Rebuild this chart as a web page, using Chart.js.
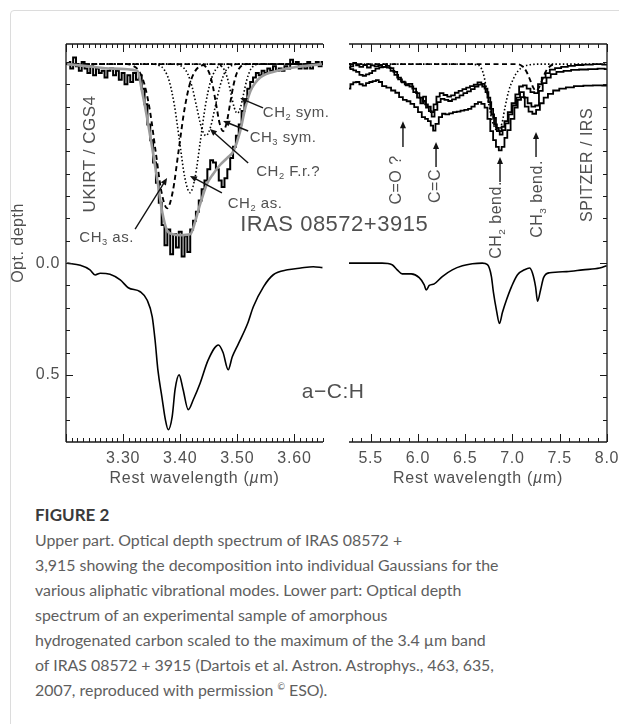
<!DOCTYPE html>
<html lang="en">
<head>
<meta charset="UTF-8">
<title>Figure 2</title>
<script src="https://cdn.jsdelivr.net/npm/chart.js@4.4.1/dist/chart.umd.min.js"></script>
<style>
    body {
        margin: 0;
        width: 619px;
        height: 724px;
        overflow: hidden;
        position: relative;
        background: #fff;
        font-family: Lato, "Open Sans", sans-serif;
    }
    .card {
        position: absolute;
        left: 10px;
        top: 10px;
        width: 700px;
        height: 800px;
        border: 1px solid #dcdcdc;
        border-radius: 4px;
    }
    .plot {
        position: absolute;
        left: 0;
        top: 0;
    }
    .caption {
        position: absolute;
        left: 35px;
        top: 506px;
        color: #5e5e5e;
        font-size: 15.9px;
        line-height: 25px;
        white-space: nowrap;
    }
    .caption h4 {
        margin: 0 0 3px 0;
        color: #3a3a3a;
        font-size: 17px;
        font-weight: 700;
        line-height: 18px;
    }
    .caption sup { font-size: 9px; line-height: 0; vertical-align: 6px; }
</style>
</head>
<body>
<div class="card"></div>
<canvas id="leftPanel" class="plot" width="619" height="500"></canvas>
<canvas id="rightPanel" class="plot" width="619" height="500"></canvas>
<div class="caption">
    <h4>FIGURE 2</h4>
    Upper part. Optical depth spectrum of IRAS 08572 +<br>
    3,915 showing the decomposition into individual Gaussians for the<br>
    various aliphatic vibrational modes. Lower part: Optical depth<br>
    spectrum of an experimental sample of amorphous<br>
    hydrogenated carbon scaled to the maximum of the 3.4 µm band<br>
    of IRAS 08572 + 3915 (Dartois et al. Astron. Astrophys., 463, 635,<br>
    2007, reproduced with permission <sup>©</sup> ESO).
</div>
<script>
// upper spectra are optical depth measured down from their own baseline
const UPPER_BASE = -0.89;

// 3.4 um band, UKIRT / CGS4  [wavelength um, optical depth]
const ukirtSpectrum = [
    [3.205,-0.01],[3.210,0.02],[3.215,-0.03],[3.220,0.01],[3.225,0.03],[3.230,-0.01],
    [3.235,0.02],[3.240,0.04],[3.245,0.01],[3.250,0.05],[3.255,0.02],[3.260,0.04],
    [3.265,0.03],[3.270,0.06],[3.275,0.03],[3.280,0.02],[3.285,0.05],[3.290,0.03],
    [3.295,0.07],[3.300,0.04],[3.305,0.09],[3.310,0.05],[3.315,0.08],[3.320,0.04],
    [3.325,0.07],[3.330,0.05],[3.335,0.11],[3.340,0.18],[3.345,0.27],[3.350,0.34],
    [3.355,0.44],[3.360,0.53],[3.365,0.62],[3.370,0.72],[3.375,0.81],[3.380,0.74],
    [3.385,0.85],[3.390,0.76],[3.395,0.82],[3.400,0.75],[3.405,0.86],[3.410,0.77],
    [3.415,0.84],[3.420,0.74],[3.425,0.70],[3.430,0.66],[3.435,0.61],[3.440,0.56],
    [3.445,0.52],[3.450,0.47],[3.455,0.43],[3.460,0.44],[3.465,0.47],[3.470,0.52],
    [3.475,0.55],[3.480,0.51],[3.485,0.47],[3.490,0.42],[3.495,0.37],[3.500,0.32],
    [3.505,0.27],[3.510,0.21],[3.515,0.16],[3.520,0.11],[3.525,0.08],[3.530,0.06],
    [3.535,0.04],[3.540,0.05],[3.545,0.03],[3.550,0.04],[3.555,0.02],[3.560,0.03],
    [3.565,0.01],[3.570,0.03],[3.575,0.02],[3.580,0.03],[3.585,0.01],[3.590,0.02],
    [3.595,-0.02],[3.600,0.00],[3.605,-0.01],[3.610,0.02],[3.615,0.01],[3.620,0.02],
    [3.625,-0.01],[3.630,0.02],[3.635,0.00],[3.640,-0.01],[3.645,0.01],[3.650,-0.01]
];
const ukirtFit = [
    [3.202,0.00],[3.240,0.01],[3.280,0.02],[3.325,0.03],[3.333,0.12],[3.342,0.24],
    [3.351,0.375],[3.360,0.52],[3.368,0.655],[3.377,0.745],[3.386,0.76],[3.400,0.765],
    [3.418,0.76],[3.423,0.73],[3.435,0.625],[3.447,0.535],[3.458,0.49],[3.470,0.45],
    [3.482,0.42],[3.493,0.39],[3.505,0.30],[3.514,0.195],[3.523,0.12],[3.540,0.06],
    [3.570,0.03],[3.598,0.015],[3.648,0.00]
];
const gaussCH3as = [
    [3.200,0],[3.307,0],[3.317,0.007],[3.327,0.028],[3.337,0.087],[3.347,0.209],[3.357,0.391],
    [3.367,0.569],[3.377,0.645],[3.387,0.569],[3.397,0.391],[3.407,0.209],[3.417,0.087],
    [3.427,0.028],[3.437,0.007],[3.447,0],[3.650,0]
];
const gaussCH2as = [
    [3.200,0],[3.354,0],[3.363,0.006],[3.372,0.025],[3.381,0.078],[3.390,0.187],[3.399,0.349],
    [3.408,0.507],[3.417,0.575],[3.426,0.507],[3.435,0.349],[3.444,0.187],[3.453,0.078],
    [3.462,0.025],[3.471,0.006],[3.480,0],[3.650,0]
];
const gaussCH2fr = [
    [3.200,0],[3.389,0],[3.397,0.004],[3.405,0.014],[3.413,0.043],[3.421,0.104],[3.429,0.194],
    [3.437,0.282],[3.445,0.32],[3.453,0.282],[3.461,0.194],[3.469,0.104],[3.477,0.043],
    [3.485,0.014],[3.493,0.004],[3.501,0],[3.650,0]
];
const gaussCH3sym = [
    [3.200,0],[3.433,0],[3.439,0.003],[3.445,0.013],[3.451,0.041],[3.457,0.097],[3.463,0.182],
    [3.469,0.265],[3.475,0.30],[3.481,0.265],[3.487,0.182],[3.493,0.097],[3.499,0.041],
    [3.505,0.013],[3.511,0.003],[3.517,0],[3.650,0]
];
const gaussCH2sym = [
    [3.200,0],[3.461,0],[3.467,0.002],[3.4725,0.010],[3.478,0.030],[3.4835,0.071],[3.489,0.133],
    [3.4945,0.194],[3.500,0.22],[3.5055,0.194],[3.511,0.133],[3.5165,0.071],[3.522,0.030],
    [3.5275,0.010],[3.533,0.002],[3.539,0],[3.650,0]
];
// laboratory a-C:H, 3.4 um region
const acH34 = [
    [3.202,0.000],[3.225,0.010],[3.242,0.030],[3.251,0.053],[3.260,0.045],[3.277,0.050],
    [3.295,0.075],[3.309,0.110],[3.330,0.128],[3.342,0.165],[3.351,0.240],[3.356,0.345],
    [3.361,0.480],[3.368,0.600],[3.374,0.700],[3.379,0.745],[3.386,0.685],[3.391,0.565],
    [3.398,0.500],[3.405,0.565],[3.414,0.655],[3.423,0.610],[3.435,0.536],[3.449,0.433],
    [3.467,0.366],[3.475,0.400],[3.484,0.477],[3.491,0.420],[3.502,0.360],[3.518,0.270],
    [3.528,0.195],[3.546,0.105],[3.563,0.052],[3.588,0.030],[3.611,0.022],[3.633,0.016],
    [3.649,0.020]
];

// 5.3 - 8 um, SPITZER / IRS (three extractions)
const irsTop = [
    [5.27,0.000],[5.30,0.010],[5.33,-0.005],[5.36,0.005],[5.40,0.012],[5.44,0.004],[5.48,0.015],
    [5.52,0.006],[5.56,0.010],[5.60,0.004],[5.64,0.012],[5.68,0.008],[5.72,0.018],[5.76,0.035],
    [5.80,0.060],[5.84,0.078],[5.88,0.090],[5.92,0.088],[5.96,0.110],[6.00,0.130],[6.03,0.150],
    [6.06,0.165],[6.09,0.180],[6.12,0.190],[6.15,0.215],[6.18,0.180],[6.21,0.145],[6.25,0.130],
    [6.29,0.138],[6.33,0.145],[6.37,0.140],[6.41,0.128],[6.45,0.120],[6.49,0.112],[6.53,0.105],
    [6.57,0.098],[6.61,0.092],[6.65,0.082],[6.69,0.088],[6.72,0.110],[6.75,0.150],[6.78,0.200],
    [6.81,0.240],[6.84,0.285],[6.87,0.300],[6.90,0.280],[6.93,0.255],[6.97,0.215],[7.01,0.175],
    [7.05,0.135],[7.09,0.100],[7.13,0.095],[7.17,0.110],[7.21,0.125],[7.25,0.130],[7.29,0.090],
    [7.33,0.060],[7.37,0.040],[7.42,0.025],[7.48,0.018],[7.55,0.012],[7.62,0.008],[7.70,0.004],
    [7.80,0.002],[7.90,0.000],[8.00,0.002]
];
const irsMid = [
    [5.27,0.015],[5.30,0.022],[5.33,0.028],[5.36,0.035],[5.40,0.048],[5.43,0.052],[5.47,0.046],
    [5.50,0.040],[5.53,0.030],[5.57,0.020],[5.61,0.014],[5.65,0.012],[5.69,0.016],[5.73,0.030],
    [5.77,0.048],[5.81,0.068],[5.85,0.082],[5.89,0.095],[5.93,0.100],[5.97,0.125],[6.01,0.150],
    [6.04,0.175],[6.07,0.145],[6.10,0.195],[6.13,0.210],[6.16,0.235],[6.19,0.205],[6.22,0.170],
    [6.26,0.155],[6.30,0.160],[6.34,0.165],[6.38,0.158],[6.42,0.150],[6.46,0.140],[6.50,0.130],
    [6.54,0.122],[6.58,0.112],[6.62,0.100],[6.66,0.092],[6.70,0.100],[6.73,0.125],[6.76,0.170],
    [6.79,0.225],[6.82,0.270],[6.85,0.300],[6.88,0.315],[6.91,0.295],[6.94,0.265],[6.98,0.225],
    [7.02,0.185],[7.06,0.150],[7.10,0.125],[7.14,0.150],[7.18,0.175],[7.22,0.190],[7.26,0.185],
    [7.30,0.120],[7.34,0.085],[7.38,0.060],[7.43,0.045],[7.50,0.035],[7.58,0.030],[7.66,0.026],
    [7.75,0.024],[7.85,0.022],[7.95,0.020],[8.00,0.022]
];
const irsLow = [
    [5.27,0.110],[5.30,0.090],[5.33,0.082],[5.36,0.080],[5.40,0.090],[5.43,0.096],[5.47,0.085],
    [5.50,0.080],[5.54,0.076],[5.57,0.072],[5.60,0.080],[5.64,0.098],[5.69,0.105],[5.74,0.118],
    [5.78,0.128],[5.82,0.148],[5.86,0.160],[5.90,0.166],[5.94,0.178],[5.98,0.192],[6.02,0.215],
    [6.06,0.237],[6.09,0.245],[6.12,0.255],[6.15,0.275],[6.17,0.297],[6.20,0.267],[6.24,0.237],
    [6.27,0.222],[6.31,0.225],[6.35,0.220],[6.39,0.215],[6.43,0.212],[6.47,0.208],[6.51,0.205],
    [6.55,0.200],[6.58,0.190],[6.62,0.178],[6.65,0.170],[6.69,0.178],[6.72,0.195],[6.75,0.245],
    [6.78,0.300],[6.81,0.340],[6.84,0.370],[6.87,0.386],[6.90,0.370],[6.93,0.330],[6.96,0.295],
    [7.00,0.245],[7.04,0.195],[7.07,0.160],[7.11,0.148],[7.15,0.190],[7.19,0.212],[7.23,0.222],
    [7.27,0.205],[7.31,0.175],[7.35,0.150],[7.40,0.133],[7.46,0.118],[7.53,0.110],[7.60,0.104],
    [7.70,0.098],[7.80,0.096],[7.90,0.095],[8.00,0.096]
];
const gaussCH2bend = [
    [5.27,0],[6.55,0],[6.62,0.003],[6.66,0.012],[6.69,0.040],[6.72,0.100],[6.75,0.180],
    [6.79,0.260],[6.85,0.300],[6.89,0.262],[6.92,0.195],[6.96,0.120],[7.01,0.065],
    [7.06,0.030],[7.12,0.010],[7.20,0.002],[7.30,0],[8.00,0]
];
const gaussCH3bend = [
    [5.27,0],[7.05,0],[7.10,0.008],[7.15,0.035],[7.19,0.075],[7.22,0.105],[7.25,0.120],
    [7.28,0.105],[7.31,0.075],[7.35,0.035],[7.40,0.008],[7.45,0]
];
const acH68 = [
    [5.27,0.000],[5.62,0.000],[5.726,0.007],[5.78,0.030],[5.832,0.048],[5.928,0.048],
    [6.013,0.065],[6.066,0.097],[6.087,0.120],[6.12,0.100],[6.172,0.093],[6.257,0.060],
    [6.363,0.030],[6.47,0.012],[6.575,0.003],[6.68,0.000],[6.735,0.007],[6.777,0.060],
    [6.798,0.130],[6.83,0.210],[6.862,0.270],[6.894,0.220],[6.936,0.165],[6.99,0.105],
    [7.053,0.052],[7.127,0.030],[7.18,0.022],[7.212,0.045],[7.244,0.105],[7.265,0.170],
    [7.297,0.120],[7.329,0.065],[7.393,0.043],[7.573,0.038],[7.743,0.030],[7.923,0.022],
    [7.997,0.012]
];

const leftTickLabels = ['3.30', '3.40', '3.50', '3.60'];
const rightTickLabels = ['5.5', '6.0', '6.5', '7.0', '7.5', '8.0'];
const depthTickLabels = ['0.0', '0.5'];

const FONT = '"Liberation Sans", Arial, sans-serif';
const INK = '#505050';

const upper = pts => pts.map(([x, t]) => ({ x, y: UPPER_BASE + t }));
const lower = pts => pts.map(([x, t]) => ({ x, y: t }));

function line(data, extra) {
    return Object.assign({
        data, borderColor: '#000', borderWidth: 1.6, pointRadius: 0, fill: false
    }, extra);
}
const DOTTED = { borderWidth: 1.6, borderDash: [1.5, 2.2], cubicInterpolationMode: 'monotone' };
const DASHED = { borderWidth: 1.9, borderDash: [5, 3.5], cubicInterpolationMode: 'monotone' };

// draw text made of [text, 'sub'|'it'] pieces
function drawRich(ctx, segs, size, align, spacing) {
    ctx.letterSpacing = (spacing || 0) + 'px';
    const parts = segs.map(s => {
        const sub = s[1] === 'sub';
        const fs = sub ? size * 0.62 : size;
        return { t: s[0], font: (s[1] === 'it' ? 'italic ' : '') + fs + 'px ' + FONT, dy: sub ? size * 0.3 : 0 };
    });
    let w = 0;
    parts.forEach(p => { ctx.font = p.font; p.w = ctx.measureText(p.t).width; w += p.w; });
    let x0 = align === 'left' ? 0 : -w / 2;
    parts.forEach(p => { ctx.font = p.font; ctx.fillText(p.t, x0, p.dy); x0 += p.w; });
    ctx.letterSpacing = '0px';
}

function drawArrow(ctx, x1, y1, x2, y2) {
    const a = Math.atan2(y2 - y1, x2 - x1), L = 7, W = 3;
    ctx.beginPath();
    ctx.moveTo(x1, y1);
    ctx.lineTo(x2 - Math.cos(a) * L * 0.7, y2 - Math.sin(a) * L * 0.7);
    ctx.stroke();
    ctx.beginPath();
    ctx.moveTo(x2, y2);
    ctx.lineTo(x2 - L * Math.cos(a) + W * Math.sin(a), y2 - L * Math.sin(a) - W * Math.cos(a));
    ctx.lineTo(x2 - L * Math.cos(a) - W * Math.sin(a), y2 - L * Math.sin(a) + W * Math.cos(a));
    ctx.closePath();
    ctx.fill();
}

// IDL-like frame with inward ticks, plus text labels and arrows
const idlPlugin = {
    id: 'idl',
    afterDatasetsDraw(chart, args, o) {
        const { ctx, chartArea: a, scales: { x, y } } = chart;
        ctx.save();
        ctx.strokeStyle = '#1a1a1a';
        ctx.lineWidth = 1.3;
        ctx.beginPath();
        ctx.moveTo(a.left, a.top); ctx.lineTo(a.right, a.top);
        ctx.moveTo(a.left, a.bottom); ctx.lineTo(a.right, a.bottom);
        const side = o.side === 'left' ? a.left : a.right;
        ctx.moveTo(side, a.top); ctx.lineTo(side, a.bottom);
        ctx.stroke();

        ctx.lineWidth = 1;
        ctx.beginPath();
        const n = Math.round((o.xTo - o.xFrom) / o.xMinor);
        for (let i = 0; i <= n; i++) {
            const v = o.xFrom + i * o.xMinor;
            const major = Math.abs(v / o.xMajor - Math.round(v / o.xMajor)) < 1e-6;
            const px = Math.round(x.getPixelForValue(v)) + 0.5;
            const len = major ? 8 : 4;
            ctx.moveTo(px, a.top); ctx.lineTo(px, a.top + len);
            ctx.moveTo(px, a.bottom); ctx.lineTo(px, a.bottom - len);
        }
        const dir = o.side === 'left' ? 1 : -1;
        for (let i = -9; i <= 7; i++) {
            const v = i / 10;
            const py = Math.round(y.getPixelForValue(v)) + 0.5;
            const len = (i === 0 || i === 5) ? 7 : 4;
            ctx.moveTo(side, py); ctx.lineTo(side + dir * len, py);
        }
        ctx.stroke();

        ctx.fillStyle = INK;
        ctx.textBaseline = 'middle';
        ctx.textAlign = 'left';
        o.xLabels.forEach(t => {
            ctx.save();
            ctx.translate(x.getPixelForValue(parseFloat(t)), a.bottom + 17);
            drawRich(ctx, [[t]], 16, 'center', 0.8);
            ctx.restore();
        });
        ctx.save();
        ctx.translate((a.left + a.right) / 2, a.bottom + 37);
        drawRich(ctx, [['Rest wavelength ('], ['\u00b5', 'it'], ['m)']], 16, 'center', 0.7);
        ctx.restore();
        if (o.side === 'left') {
            depthTickLabels.forEach(t => {
                ctx.save();
                ctx.translate(a.left - 18, y.getPixelForValue(parseFloat(t)));
                drawRich(ctx, [[t]], 16, 'center', 0.8);
                ctx.restore();
            });
            ctx.save();
            ctx.translate(a.left - 47, 243);
            ctx.rotate(-Math.PI / 2);
            drawRich(ctx, [['Opt. depth']], 16, 'center', 0.5);
            ctx.restore();
        }

        o.notes.forEach(nt => {
            ctx.save();
            ctx.translate(x.getPixelForValue(nt.at[0]), y.getPixelForValue(nt.at[1]));
            if (nt.rotate) ctx.rotate(-Math.PI / 2);
            drawRich(ctx, nt.text, nt.size, nt.align || 'center', 0.5);
            ctx.restore();
        });
        ctx.strokeStyle = '#111';
        ctx.fillStyle = '#111';
        ctx.lineWidth = 1.4;
        o.arrows.forEach(ar => {
            drawArrow(ctx,
                x.getPixelForValue(ar[0][0]), y.getPixelForValue(ar[0][1]),
                x.getPixelForValue(ar[1][0]), y.getPixelForValue(ar[1][1]));
        });
        ctx.restore();
    }
};

function panelOptions(xmin, xmax, padding, idl) {
    return {
        responsive: false,
        animation: false,
        events: [],
        layout: { padding },
        plugins: { legend: { display: false }, tooltip: { enabled: false }, idl },
        scales: {
            x: { type: 'linear', min: xmin, max: xmax, display: false },
            y: { type: 'linear', min: -0.98, max: 0.8, reverse: true, display: false }
        }
    };
}

new Chart(document.getElementById('leftPanel'), {
    type: 'line',
    data: {
        datasets: [
            line(upper(ukirtFit), { borderColor: '#9b9b9b', borderWidth: 2.6, cubicInterpolationMode: 'monotone' }),
            line(upper(ukirtSpectrum), { borderWidth: 2, stepped: 'middle' }),
            line(upper(gaussCH3as), DASHED),
            line(upper(gaussCH2as), DOTTED),
            line(upper(gaussCH2fr), DOTTED),
            line(upper(gaussCH3sym), DASHED),
            line(upper(gaussCH2sym), DOTTED),
            line(lower(acH34), { borderWidth: 1.6, cubicInterpolationMode: 'monotone' })
        ]
    },
    options: panelOptions(3.20, 3.65, { left: 66, right: 296, top: 44, bottom: 58 }, {
        side: 'left', xFrom: 3.20, xTo: 3.65, xMinor: 0.01, xMajor: 0.1, xLabels: leftTickLabels,
        notes: [
            { text: [['UKIRT / CGS4']], at: [3.242, -0.488], size: 17, rotate: true },
            { text: [['CH'], ['3', 'sub'], [' as.']], at: [3.271, -0.112], size: 15 },
            { text: [['CH'], ['2', 'sub'], [' as.']], at: [3.531, -0.264], size: 15 },
            { text: [['CH'], ['2', 'sub'], [' F.r.?']], at: [3.589, -0.407], size: 15 },
            { text: [['CH'], ['3', 'sub'], [' sym.']], at: [3.580, -0.560], size: 15 },
            { text: [['CH'], ['2', 'sub'], [' sym.']], at: [3.603, -0.671], size: 15 },
            { text: [['IRAS 08572+3915']], at: [3.505, -0.170], size: 22, align: 'left' },
            { text: [['a\u2212C:H']], at: [3.613, 0.576], size: 21, align: 'left' }
        ],
        arrows: [
            [[3.321, -0.152], [3.377, -0.381]],
            [[3.473, -0.314], [3.417, -0.390]],
            [[3.519, -0.448], [3.452, -0.600]],
            [[3.519, -0.591], [3.475, -0.636]],
            [[3.545, -0.694], [3.505, -0.738]]
        ]
    }),
    plugins: [idlPlugin]
});

new Chart(document.getElementById('rightPanel'), {
    type: 'line',
    data: {
        datasets: [
            line(upper(irsTop), { stepped: 'middle', borderWidth: 1.8 }),
            line(upper(irsMid), { stepped: 'middle', borderWidth: 1.8 }),
            line(upper(irsLow), { stepped: 'middle', borderWidth: 1.8 }),
            line(upper(gaussCH2bend), DOTTED),
            line(upper(gaussCH3bend), DASHED),
            line(lower(acH68), { borderWidth: 1.6, cubicInterpolationMode: 'monotone' })
        ]
    },
    options: panelOptions(5.27, 8.0, { left: 349, right: 12, top: 44, bottom: 58 }, {
        side: 'right', xFrom: 5.3, xTo: 8.0, xMinor: 0.1, xMajor: 0.5, xLabels: rightTickLabels,
        notes: [
            { text: [['C=O ?']], at: [5.778, -0.372], size: 16, rotate: true },
            { text: [['C=C']], at: [6.191, -0.345], size: 16, rotate: true },
            { text: [['CH'], ['2', 'sub'], [' bend.']], at: [6.836, -0.193], size: 16, rotate: true },
            { text: [['CH'], ['3', 'sub'], [' bend.']], at: [7.270, -0.287], size: 16, rotate: true },
            { text: [['SPITZER / IRS']], at: [7.799, -0.439], size: 16, rotate: true }
        ],
        arrows: [
            [[5.841, -0.519], [5.841, -0.635]],
            [[6.191, -0.430], [6.191, -0.542]],
            [[6.868, -0.363], [6.868, -0.475]],
            [[7.249, -0.475], [7.249, -0.586]]
        ]
    }),
    plugins: [idlPlugin]
});
</script>
</body>
</html>
